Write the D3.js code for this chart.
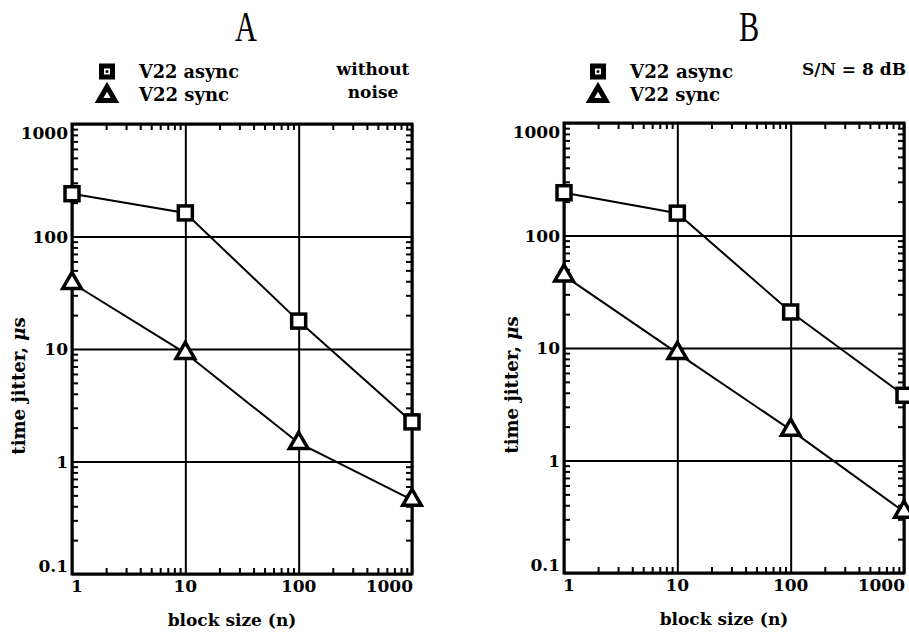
<!DOCTYPE html>
<html>
<head>
<meta charset="utf-8">
<script src="https://cdn.jsdelivr.net/npm/d3@7"></script>
<style>
  body { margin: 0; background: #fff; }
  text { font-family: "DejaVu Serif", "Liberation Serif", serif; fill: #000; }
  .lbl { font-weight: bold; font-size: 16px; }
</style>
</head>
<body>
<div id="chart"></div>
<script>
var blockSizes = [1, 10, 100, 1000];
var asyncA = [240, 162, 17.7, 2.25];
var syncA = [38.6, 9.2, 1.46, 0.455];
var asyncB = [240, 158, 20.9, 3.8];
var syncB = [44, 9.0, 1.87, 0.35];
var yTicks = [0.1, 1, 10, 100, 1000];
var xTicks = [1, 10, 100, 1000];
var legendNames = ["V22 async", "V22 sync"];

var svg = d3.select("#chart")
    .append("svg")
    .attr("width", 909)
    .attr("height", 635);

function minors(lo, hi) {
    var out = [];
    for (var d = lo; d < hi; d *= 10) {
        for (var k = 2; k <= 9; k++) out.push(d * k);
    }
    return out;
}

function drawPanel(p) {
    var width = p.right - p.left;
    var height = p.bottom - p.top;

    var x = d3.scaleLog().domain([1, 1000]).range([0, width]);
    var y = d3.scaleLog().domain([0.1, 1000]).range([height, 0]);

    var g = svg.append("g")
        .attr("transform", `translate(${p.left}, ${p.top})`);

    // grid lines at decades
    g.append("g")
        .call(d3.axisLeft(y).tickValues(yTicks).tickSize(-width).tickFormat(""))
        .call(a => a.select(".domain").remove());
    g.append("g")
        .call(d3.axisTop(x).tickValues(xTicks).tickSize(-height).tickFormat(""))
        .call(a => a.select(".domain").remove());

    // minor ticks on all sides
    var ym = minors(0.1, 1000), xm = minors(1, 1000);
    g.append("g").call(d3.axisLeft(y).tickValues(ym).tickSize(-6).tickFormat(""))
        .call(a => a.select(".domain").remove());
    g.append("g").attr("transform", `translate(${width}, 0)`)
        .call(d3.axisRight(y).tickValues(ym).tickSize(-6).tickFormat(""))
        .call(a => a.select(".domain").remove());
    g.append("g").attr("transform", `translate(0, ${height})`)
        .call(d3.axisBottom(x).tickValues(xm).tickSize(-6).tickFormat(""))
        .call(a => a.select(".domain").remove());
    g.append("g")
        .call(d3.axisTop(x).tickValues(xm).tickSize(-6).tickFormat(""))
        .call(a => a.select(".domain").remove());
    g.selectAll(".tick line").attr("stroke", "#000").attr("stroke-width", 2);

    // frame
    g.append("rect")
        .attr("width", width).attr("height", height)
        .attr("fill", "none").attr("stroke", "#000").attr("stroke-width", 3);

    // tick labels (end labels nudged inward like the original)
    g.selectAll(".ylab").data(yTicks).enter().append("text")
        .attr("class", "lbl")
        .attr("x", -4)
        .attr("y", d => y(d) + 6 + (d === 1000 ? 9 : d === 0.1 ? -8 : 0))
        .attr("text-anchor", "end")
        .style("font-size", "17px")
        .text(d => d);
    g.selectAll(".xlab").data(xTicks).enter().append("text")
        .attr("class", "lbl")
        .attr("x", d => d === 1000 ? x(d) + 1 : d === 1 ? x(d) + 5 : x(d))
        .attr("y", height + 18)
        .attr("text-anchor", d => d === 1000 ? "end" : "middle")
        .style("font-size", "17px")
        .text(d => d);

    // axis titles
    g.append("text")
        .attr("class", "lbl")
        .attr("x", width / 2 - 10).attr("y", height + 52)
        .attr("text-anchor", "middle")
        .style("font-size", "17px")
        .text("block size (n)");
    var yl = g.append("text")
        .attr("class", "lbl")
        .attr("transform", `translate(${p.yTitleX - p.left}, ${height / 2 + 37}) rotate(-90)`)
        .attr("text-anchor", "middle")
        .style("font-size", "18px");
    yl.append("tspan").text("time jitter, ");
    yl.append("tspan").style("font-style", "italic").text("μ");
    yl.append("tspan").text("s");

    var line = d3.line()
        .x((d, i) => x(blockSizes[i]))
        .y(d => y(d));

    [p.async, p.sync].forEach(function (vals) {
        g.append("path").datum(vals)
            .attr("d", line)
            .attr("fill", "none").attr("stroke", "#000").attr("stroke-width", 2);
    });

    g.selectAll(".sq").data(p.async).enter().append("rect")
        .attr("x", (d, i) => x(blockSizes[i]) - 7)
        .attr("y", d => y(d) - 7)
        .attr("width", 14).attr("height", 14)
        .attr("fill", "#fff").attr("stroke", "#000").attr("stroke-width", 3.5);

    var tri = d3.symbol().type(d3.symbolTriangle).size(150);
    g.selectAll(".tri").data(p.sync).enter().append("path")
        .attr("d", tri)
        .attr("transform", (d, i) => `translate(${x(blockSizes[i])}, ${y(d)})`)
        .attr("fill", "#fff").attr("stroke", "#000").attr("stroke-width", 3.5);

    // panel title
    svg.append("text")
        .attr("transform", `translate(${p.titleX}, 41) scale(0.72, 1)`)
        .attr("text-anchor", "middle")
        .style("font-family", "'Liberation Serif', serif")
        .style("font-size", "42px")
        .text(p.title);

    // legend
    var lg = svg.append("g").attr("transform", `translate(${p.legendX}, 0)`);
    lg.append("rect").attr("x", -5.5).attr("y", 66).attr("width", 11).attr("height", 11)
        .attr("fill", "#fff").attr("stroke", "#000").attr("stroke-width", 5);
    lg.append("circle").attr("cx", 0).attr("cy", 71.5).attr("r", 1.5).attr("fill", "#000");
    lg.append("path").attr("d", d3.symbol().type(d3.symbolTriangle).size(110))
        .attr("transform", "translate(0, 96)")
        .attr("fill", "#fff").attr("stroke", "#000").attr("stroke-width", 5);
    lg.selectAll(".lt").data(legendNames).enter().append("text")
        .attr("class", "lbl")
        .attr("x", p.legendTextDx).attr("y", (d, i) => 78 + i * 23)
        .attr("textLength", (d, i) => p.legendW[i])
        .attr("lengthAdjust", "spacingAndGlyphs")
        .style("font-size", "18px")
        .text(d => d);

    p.note.forEach(function (t, i) {
        svg.append("text")
            .attr("class", "lbl")
            .attr("x", p.noteX).attr("y", 75 + i * 23)
            .attr("text-anchor", p.noteAnchor)
            .style("font-size", p.noteSize)
            .text(t);
    });
}

drawPanel({
    left: 72, right: 412, top: 124, bottom: 574,
    async: asyncA, sync: syncA, title: "A", titleX: 246,
    legendX: 107, legendTextDx: 32, legendW: [100, 90], yTitleX: 25,
    note: ["without", "noise"], noteX: 373, noteAnchor: "middle", noteSize: "17px"
});
drawPanel({
    left: 564, right: 904, top: 123, bottom: 573,
    async: asyncB, sync: syncB, title: "B", titleX: 749,
    legendX: 598, legendTextDx: 32, legendW: [103, 90], yTitleX: 518,
    note: ["S/N = 8 dB"], noteX: 906, noteAnchor: "end", noteSize: "17px"
});
</script>
</body>
</html>
